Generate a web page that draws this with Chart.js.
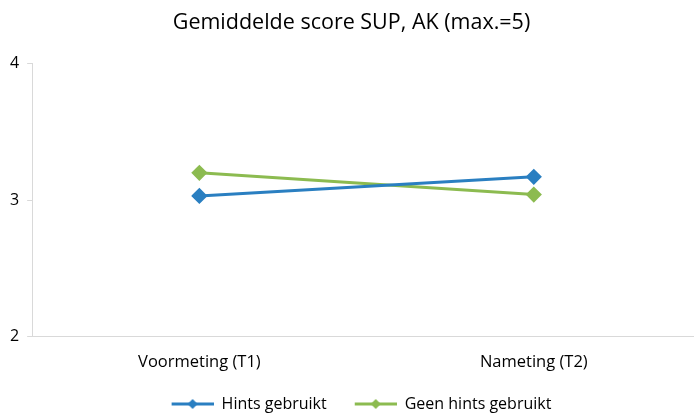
<!DOCTYPE html>
<html>
<head>
<meta charset="utf-8">
<script src="https://cdn.jsdelivr.net/npm/chart.js@4"></script>
<style>
  html, body { margin: 0; padding: 0; background: #fff; overflow: hidden; }
  #wrap { width: 694px; height: 413px; overflow: hidden; }
</style>
</head>
<body>
<div id="wrap"><canvas id="Chart" width="701" height="413"></canvas></div>
<script>
var labels = ["Voormeting (T1)", "Nameting (T2)"];
var hintsGebruikt = [3.03, 3.17];
var geenHints = [3.20, 3.04];
var seriesNames = ["Hints gebruikt", "Geen hints gebruikt"];
var blue = "#2a7fc1";
var green = "#8cbb50";
var font = "'Open Sans', sans-serif";

// legend symbol: blank gap, then a short line with a diamond in the middle
function legendIcon(color) {
  var c = document.createElement("canvas");
  c.width = 62; c.height = 12;
  var g = c.getContext("2d");
  g.strokeStyle = color;
  g.lineWidth = 3;
  g.beginPath(); g.moveTo(20, 6); g.lineTo(62, 6); g.stroke();
  g.fillStyle = color;
  g.beginPath(); g.moveTo(41, 1); g.lineTo(46, 6); g.lineTo(41, 11); g.lineTo(36, 6); g.closePath(); g.fill();
  return c;
}

var ctx = document.getElementById("Chart");
var chart = new Chart(ctx, {
  type: 'line',
  data: {
    labels: labels,
    datasets: [{
      label: seriesNames[0],
      data: hintsGebruikt,
      borderColor: blue,
      backgroundColor: blue,
      borderWidth: 3,
      pointStyle: 'rectRot',
      pointRadius: 6,
      pointHoverRadius: 6
    }, {
      label: seriesNames[1],
      data: geenHints,
      borderColor: green,
      backgroundColor: green,
      borderWidth: 3,
      pointStyle: 'rectRot',
      pointRadius: 6,
      pointHoverRadius: 6
    }]
  },
  options: {
    responsive: false,
    animation: false,
    layout: { autoPadding: false, padding: { left: 2, right: 0, top: 10, bottom: -9 } },
    plugins: {
      title: {
        display: true,
        text: 'Gemiddelde score SUP, AK (max.=5)',
        color: '#000',
        font: { family: font, size: 21.5, weight: 'normal' },
        padding: { top: 0, bottom: 28 }
      },
      legend: {
        position: 'bottom',
        labels: {
          color: '#000',
          font: { family: font, size: 16 },
          usePointStyle: true,
          pointStyleWidth: 62,
          boxHeight: 12,
          padding: 8,
          generateLabels: function(chart) {
            return chart.data.datasets.map(function(ds, i) {
              return {
                text: ds.label,
                pointStyle: legendIcon(ds.borderColor),
                fillStyle: ds.borderColor,
                strokeStyle: ds.borderColor,
                lineWidth: 0,
                datasetIndex: i
              };
            });
          }
        }
      },
      tooltip: { enabled: false }
    },
    scales: {
      x: {
        offset: true,
        afterFit: function(scale) { scale.paddingLeft = 0; scale.paddingRight = 0; },
        grid: { display: true, drawOnChartArea: false, drawTicks: false, color: '#d9d9d9' },
        border: { display: true, color: '#d9d9d9', width: 1 },
        ticks: { color: '#000', font: { family: font, size: 16.5 }, padding: 16 }
      },
      y: {
        min: 2,
        max: 4,
        ticks: { stepSize: 1, color: '#000', font: { family: font, size: 16 }, padding: 8 },
        grid: { display: true, drawOnChartArea: false, drawTicks: true, tickLength: 5, color: '#d9d9d9' },
        border: { display: true, color: '#d9d9d9', width: 1 }
      }
    }
  }
});
</script>
</body>
</html>
